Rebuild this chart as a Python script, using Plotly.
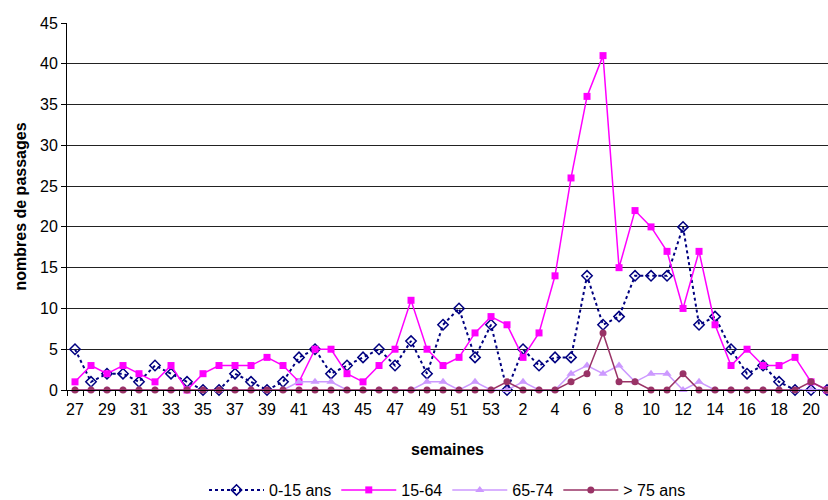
import plotly.graph_objects as go

# Semaines de l'année (27 à 53 puis 1 à 21)
weeks = [str(w) for w in range(27, 54)] + [str(w) for w in range(1, 22)]

age_0_15 = [5, 1, 2, 2, 1, 3, 2, 1, 0, 0, 2, 1, 0, 1, 4, 5, 2, 3, 4, 5, 3, 6, 2, 8, 10, 4, 8,
            0, 5, 3, 4, 4, 14, 8, 9, 14, 14, 14, 20, 8, 9, 5, 2, 3, 1, 0, 0, 0]
age_15_64 = [1, 3, 2, 3, 2, 1, 3, 0, 2, 3, 3, 3, 4, 3, 1, 5, 5, 2, 1, 3, 5, 11, 5, 3, 4, 7, 9,
             8, 4, 7, 14, 26, 36, 41, 15, 22, 20, 17, 10, 17, 8, 3, 5, 3, 3, 4, 1, 0]
age_65_74 = [0, 0, 0, 0, 0, 0, 0, 0, 0, 0, 0, 0, 0, 0, 1, 1, 1, 0, 0, 0, 0, 0, 1, 1, 0, 1, 0,
             0, 1, 0, 0, 2, 3, 2, 3, 1, 2, 2, 0, 1, 0, 0, 0, 0, 0, 0, 0, 0]
age_75_plus = [0, 0, 0, 0, 0, 0, 0, 0, 0, 0, 0, 0, 0, 0, 0, 0, 0, 0, 0, 0, 0, 0, 0, 0, 0, 0, 0,
               1, 0, 0, 0, 1, 2, 7, 1, 1, 0, 0, 2, 0, 0, 0, 0, 0, 0, 0, 1, 0]

y_ticks = list(range(0, 50, 5))

idx = list(range(len(weeks)))
label_idx = idx[::2]
label_txt = [weeks[i] for i in label_idx]

fig = go.Figure()

fig.add_trace(go.Scatter(
    x=idx, y=age_0_15, name="0-15 ans", mode="lines+markers",
    line=dict(color="#000080", width=2, dash="dot"),
    marker=dict(symbol="diamond-open", size=8, color="#000080", line=dict(width=1.5)),
    cliponaxis=False,
))
fig.add_trace(go.Scatter(
    x=idx, y=age_15_64, name="15-64", mode="lines+markers",
    line=dict(color="#FF00FF", width=1.5),
    marker=dict(symbol="square", size=7, color="#FF00FF"),
    cliponaxis=False,
))
fig.add_trace(go.Scatter(
    x=idx, y=age_65_74, name="65-74", mode="lines+markers",
    line=dict(color="#CC99FF", width=1.5),
    marker=dict(symbol="triangle-up", size=8, color="#CC99FF"),
    cliponaxis=False,
))
fig.add_trace(go.Scatter(
    x=idx, y=age_75_plus, name="> 75 ans", mode="lines+markers",
    line=dict(color="#993366", width=1.5),
    marker=dict(symbol="circle", size=7, color="#993366"),
    cliponaxis=False,
))

font_family = "Liberation Sans, Arial, sans-serif"

fig.update_layout(
    width=828, height=500,
    margin=dict(l=67, r=0, t=23, b=110, autoexpand=False),
    paper_bgcolor="white", plot_bgcolor="white",
    font=dict(family=font_family, size=16, color="black"),
    showlegend=True,
    legend=dict(
        orientation="h", x=0.5, xanchor="center",
        yref="container", y=0.02, yanchor="middle",
        font=dict(size=16), itemwidth=55, traceorder="normal",
    ),
    xaxis=dict(
        range=[-0.5, 47.06],
        tickmode="array", tickvals=label_idx, ticktext=label_txt,
        ticks="", showgrid=False, zeroline=False,
        showline=True, linecolor="black", linewidth=1,
        tickfont=dict(size=16), ticklabelstandoff=5,
        minor=dict(ticks="outside", tick0=-0.5, dtick=1, ticklen=5,
                   tickcolor="black", showgrid=False),
        title=dict(text="<b>semaines</b>", font=dict(size=16), standoff=26),
    ),
    yaxis=dict(
        range=[0, 45], tickmode="array", tickvals=y_ticks,
        ticks="outside", ticklen=5, tickcolor="black",
        showgrid=True, gridcolor="#222222", gridwidth=1,
        zeroline=False, showline=True, linecolor="black", linewidth=1,
        tickfont=dict(size=16),
        title=dict(text="<b>nombres de passages</b>", font=dict(size=16), standoff=9),
    ),
)

fig.write_html("out.html")
